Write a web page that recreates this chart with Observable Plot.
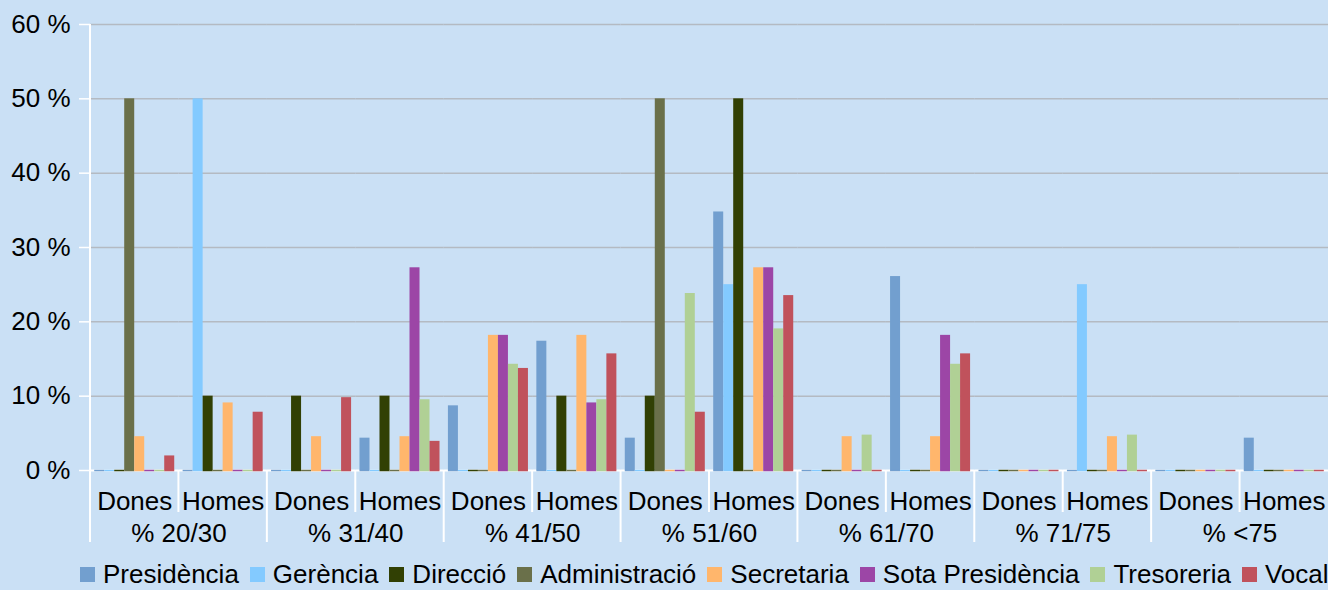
<!DOCTYPE html>
<html>
<head>
<meta charset="utf-8">
<script src="https://cdn.jsdelivr.net/npm/d3@7"></script>
<script src="https://cdn.jsdelivr.net/npm/@observablehq/plot@0.6"></script>
<style>
html, body { margin: 0; padding: 0; background: #cae0f5; width: 1328px; height: 590px; overflow: hidden; font-family: "Liberation Sans", Arial, sans-serif; }
#chart { position: absolute; left: 0; top: 0; }
#legend { position: absolute; left: 80px; top: 559px; height: 30px; line-height: 30px; display: flex; align-items: center; font-size: 26px; color: #000; white-space: nowrap; }
.item { display: flex; align-items: center; margin-right: 11px; }
.sw { width: 15px; height: 15px; margin-right: 8px; }
</style>
</head>
<body>
<div id="chart"></div>
<div id="legend"></div>
<script>
// Categories
const ages = ["% 20/30", "% 31/40", "% 41/50", "% 51/60", "% 61/70", "% 71/75", "% <75"];
const sexes = ["Dones", "Homes"];
const series = ["Presidència", "Gerència", "Direcció", "Administració", "Secretaria", "Sota Presidència", "Tresoreria", "Vocal"];
const colors = ["#729fcf", "#83caff", "#314004", "#6a704a", "#ffb66c", "#9c46a6", "#b0d095", "#c0525c"];
const yTicks = [0, 10, 20, 30, 40, 50, 60];

// Values (%), ordered: 20/30 Dones, 20/30 Homes, 31/40 Dones, 31/40 Homes, ...
const presidencia    = [0, 0,     0, 4.35,    8.7, 17.39,   4.35, 34.78,  0, 26.09,   0, 0,    0, 4.35];
const gerencia       = [0, 50,    0, 0,       0, 0,         0, 25,        0, 0,       0, 25,   0, 0];
const direccio       = [0, 10,    10, 10,     0, 10,        10, 50,       0, 0,       0, 0,    0, 0];
const administracio  = [50, 0,    0, 0,       0, 0,         50, 0,        0, 0,       0, 0,    0, 0];
const secretaria     = [4.55, 9.09, 4.55, 4.55, 18.18, 18.18, 0, 27.27,   4.55, 4.55, 0, 4.55, 0, 0];
const sotaPresidencia= [0, 0,     0, 27.27,   18.18, 9.09,  0, 27.27,     0, 18.18,   0, 0,    0, 0];
const tresoreria     = [0, 0,     0, 9.52,    14.29, 9.52,  23.81, 19.05, 4.76, 14.29, 0, 4.76, 0, 0];
const vocal          = [1.96, 7.84, 9.8, 3.92, 13.73, 15.69, 7.84, 23.53, 0, 15.69,   0, 0,    0, 0];

const seriesValues = [presidencia, gerencia, direccio, administracio, secretaria, sotaPresidencia, tresoreria, vocal];

const groups = ages.flatMap(a => sexes.map(s => ({age: a, sex: s, key: a + "|" + s})));
const data = groups.flatMap((g, i) => series.map((s, j) => ({key: g.key, series: s, value: seriesValues[j][i]})));

const font = "'Liberation Sans', Arial, sans-serif";
const chart = Plot.plot({
  width: 1328,
  height: 557,
  marginLeft: 90,
  marginRight: 0,
  marginTop: 24,
  marginBottom: 87,
  style: {background: "#cae0f5", fontFamily: font, fontSize: "26px", color: "#000", overflow: "visible"},
  fx: {domain: groups.map(g => g.key), padding: 0, round: false, axis: null},
  x: {domain: series, paddingInner: 0, paddingOuter: 0.42, round: false, axis: null},
  y: {domain: [0, 60], ticks: yTicks, tickFormat: d => d + " %", tickSize: 11, tickPadding: 9, label: null},
  color: {domain: series, range: colors},
  marks: [
    Plot.ruleY(yTicks.filter(t => t > 0), {stroke: "#b4bac2", strokeWidth: 1.5}),
    Plot.ruleY([0], {stroke: "#ffffff", strokeWidth: 2}),
    Plot.barY(data, {fx: "key", x: "series", y: "value", fill: "series"}),
    Plot.tickY(data, {fx: "key", x: "series", y: 0, stroke: "series", strokeWidth: 1.5}),
    Plot.text(groups, {fx: "key", text: "sex", frameAnchor: "bottom", dy: 39, fontSize: 26, fill: "#000"}),
    Plot.text(groups.filter(g => g.sex === "Dones"), {fx: "key", text: "age", frameAnchor: "bottom-right", textAnchor: "middle", dy: 71, fontSize: 26, fill: "#000"})
  ]
});

document.getElementById("chart").appendChild(chart);

// Style y-axis tick marks white
const svg = d3.select(chart);
svg.selectAll('[aria-label^="y-axis"] line, [aria-label^="y-axis"] path').attr("stroke", "#ffffff").attr("stroke-width", 1.5);

// Separator lines computed from the Plot scales
const fxs = chart.scale("fx");
const ys = chart.scale("y");
const y0 = ys.apply(0);
const yTop = ys.apply(60);
const sep = svg.append("g").attr("stroke", "#ffffff").attr("stroke-width", 2);
groups.forEach((g, i) => {
  const x = fxs.apply(g.key);
  if (i === 0) {
    sep.append("line").attr("x1", x).attr("x2", x).attr("y1", yTop).attr("y2", y0 + 72);
  } else {
    sep.append("line").attr("x1", x).attr("x2", x).attr("y1", y0).attr("y2", y0 + (g.sex === "Dones" ? 72 : 42));
  }
});

// Legend
const legend = d3.select("#legend");
series.forEach((s, i) => {
  const item = legend.append("div").attr("class", "item");
  item.append("div").attr("class", "sw").style("background", colors[i]);
  item.append("span").text(s);
});
</script>
</body>
</html>
